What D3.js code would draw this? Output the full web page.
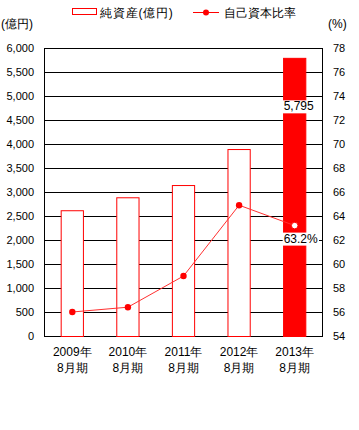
<!DOCTYPE html>
<html><head><meta charset="utf-8">
<script src="https://cdn.jsdelivr.net/npm/d3@7"></script>
<style>body{margin:0;background:#fff}svg{display:block}text{font-family:"Liberation Sans",Arial,sans-serif}</style>
</head><body>
<script>
const categories = ["2009年|8月期","2010年|8月期","2011年|8月期","2012年|8月期","2013年|8月期"];
const netAssets = [2620, 2890, 3145, 3895, 5795];
const equityRatio = [56.0, 56.4, 59.0, 64.9, 63.2];
const leftTicks = [0,500,1000,1500,2000,2500,3000,3500,4000,4500,5000,5500,6000];
const rightTicks = [54,56,58,60,62,64,66,68,70,72,74,76,78];

const W=359,H=430;
const m={l:44,r:37,t:48,b:94};
const svg=d3.select("body").append("svg").attr("width",W).attr("height",H);
const x=d3.scaleBand().domain(categories).range([m.l,W-m.r]).paddingInner(0.6).paddingOuter(0.3);
const y=d3.scaleLinear().domain([0,6000]).range([H-m.b,m.t]);
const y2=d3.scaleLinear().domain([54,78]).range([H-m.b,m.t]);
const jp='"Noto Sans CJK JP",sans-serif';

// gridlines
svg.append("g").selectAll("line").data(leftTicks).join("line")
 .attr("x1",m.l).attr("x2",W-m.r).attr("y1",d=>y(d)+0.5).attr("y2",d=>y(d)+0.5)
 .attr("stroke","#000").attr("stroke-width",1);
// frame
svg.append("rect").attr("x",m.l+0.5).attr("y",m.t+0.5).attr("width",W-m.r-m.l).attr("height",H-m.b-m.t)
 .attr("fill","none").attr("stroke","#000");

// axis labels
svg.append("g").selectAll("text").data(leftTicks).join("text")
 .attr("x",34).attr("y",d=>y(d)+4).attr("text-anchor","end").attr("font-size",11)
 .text(d=>d3.format(",")(d));
svg.append("g").selectAll("text").data(rightTicks).join("text")
 .attr("x",333).attr("y",d=>y2(d)+4).attr("text-anchor","start").attr("font-size",11)
 .text(d=>d);

// bars
svg.append("g").selectAll("rect").data(netAssets).join("rect")
 .attr("x",(d,i)=>x(categories[i])+0.5).attr("y",d=>y(d)+0.5)
 .attr("width",x.bandwidth()).attr("height",d=>y(0)-y(d))
 .attr("fill",(d,i)=>i===4?"#ff0000":"#fff").attr("stroke","#ff0000").attr("stroke-width",1);

// line
const cx=i=>x(categories[i])+x.bandwidth()/2+0.5;
svg.append("path").datum(equityRatio)
 .attr("d",d3.line().x((d,i)=>cx(i)).y(d=>y2(d)))
 .attr("fill","none").attr("stroke","#ff3030").attr("stroke-width",1);
svg.append("g").selectAll("circle").data(equityRatio.slice(0,4)).join("circle")
 .attr("cx",(d,i)=>cx(i)).attr("cy",d=>y2(d)).attr("r",3.2).attr("fill","#ff0000");
svg.append("circle").attr("cx",cx(4)).attr("cy",y2(equityRatio[4])).attr("r",3.3)
 .attr("fill","#fff").attr("stroke","#ff0000");

// data labels on 2013
function label(txt,cxv,cyv){
  const g=svg.append("g");
  const t=g.append("text").attr("x",cxv).attr("y",cyv+4).attr("text-anchor","middle").attr("font-size",12).text(txt);
  const bb=t.node().getBBox();
  g.insert("rect","text").attr("x",bb.x-1).attr("y",bb.y+1).attr("width",bb.width+2).attr("height",bb.height-1).attr("fill","#fff");
}
label(d3.format(",")(netAssets[4]),cx(4)+4,y(netAssets[4])+48.5);
label(equityRatio[4]+"%",cx(4)+6,y2(equityRatio[4])+13);

// x labels
categories.forEach((c,i)=>{
  const [a,b]=c.split("|");
  svg.append("text").attr("x",cx(i)).attr("y",356).attr("text-anchor","middle").attr("font-size",12).attr("font-family",jp).text(a);
  svg.append("text").attr("x",cx(i)).attr("y",372).attr("text-anchor","middle").attr("font-size",12).attr("font-family",jp).text(b);
});

// axis titles
svg.append("text").attr("x",1).attr("y",28).attr("font-size",12).attr("font-family",jp).text("(億円)");
svg.append("text").attr("x",328).attr("y",28).attr("font-size",12).attr("font-family",jp).text("(%)");

// legend
svg.append("rect").attr("x",72.5).attr("y",8.5).attr("width",24).attr("height",6).attr("fill","#fff").attr("stroke","#ff0000");
svg.append("text").attr("x",100).attr("y",17).attr("font-size",12).attr("font-family",jp).attr("letter-spacing",0.8).text("純資産(億円)");
svg.append("line").attr("x1",193).attr("x2",219).attr("y1",12.5).attr("y2",12.5).attr("stroke","#ff0000");
svg.append("circle").attr("cx",206).attr("cy",12.5).attr("r",3).attr("fill","#ff0000");
svg.append("text").attr("x",224).attr("y",17).attr("font-size",12).attr("font-family",jp).text("自己資本比率");
</script>
</body></html>
